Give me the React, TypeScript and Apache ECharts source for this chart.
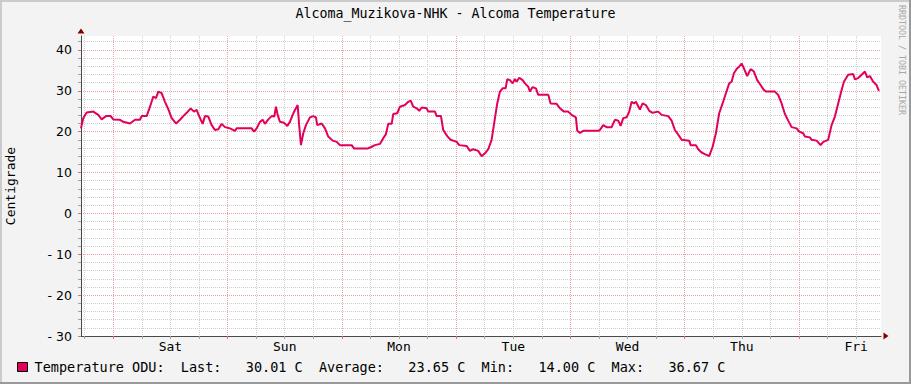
import React, { useEffect, useRef } from "react";
import * as echarts from "echarts";

const chartTitle = "Alcoma_Muzikova-NHK - Alcoma Temperature";
const yAxisTitle = "Centigrade";
const watermark = "RRDTOOL / TOBI OETIKER";
const seriesName = "Temperature ODU";
const unit = "C";
const dayLabels = ["Sat", "Sun", "Mon", "Tue", "Wed", "Thu", "Fri"];
const statNames = ["Last", "Average", "Min", "Max"];
const statValues = [30.01, 23.65, 14.0, 36.67];

// time in hours relative to Saturday 00:00
const startHour = -6.78;
const spanHours = 168;
const yMin = -30;
const yMax = 43.4;
const yMajorStep = 10;
const yMinorStep = 2;

// [hour, temperature °C]
const readings: [number, number][] = [
  [-6.78, 20.8], [-6.3, 23.3], [-5.59, 24.7], [-4.2, 24.9], [-3.15, 24.1], [-2.44, 23.0], [-1.53, 23.8], [-0.55, 23.8],
  [0, 23.0], [1.41, 22.9], [2.1, 22.4], [3.51, 22.0], [4.56, 22.9], [5.61, 22.9], [5.96, 23.8], [7.01, 23.8],
  [7.71, 26.1], [8.4, 28.6], [8.97, 28.2], [9.45, 29.8], [10.16, 29.4], [10.86, 27.3], [11.55, 25.5], [12.26, 23.3],
  [13.17, 22.0], [14.01, 22.9], [14.7, 23.8], [15.41, 24.6], [16.25, 25.7], [16.94, 24.9], [17.51, 25.3], [18.06, 23.7],
  [18.77, 21.9], [19.25, 23.8], [19.95, 23.7], [20.66, 21.6], [21.35, 20.4], [22.05, 20.6], [22.76, 21.9], [23.45, 21.1],
  [24.5, 20.8], [25.55, 20.2], [25.91, 20.8], [26.96, 20.8], [29.06, 20.8], [29.54, 20.0], [30.11, 20.8], [30.8, 22.4],
  [31.37, 22.9], [31.85, 21.9], [32.55, 23.0], [33.26, 23.8], [33.81, 23.7], [34.16, 26.1], [34.52, 24.1], [35.0, 22.4],
  [35.84, 22.2], [36.54, 21.4], [37.1, 22.4], [37.67, 24.1], [38.15, 25.3], [38.72, 26.5], [39.06, 21.2], [39.41, 16.7],
  [39.9, 19.6], [40.46, 21.6], [41.3, 23.5], [41.99, 23.8], [42.56, 23.5], [42.83, 21.6], [43.76, 22.0], [44.45, 20.8],
  [45.14, 18.8], [46.07, 17.8], [46.91, 17.5], [47.6, 16.7], [50.06, 16.7], [50.54, 15.9], [51.8, 15.9], [53.48, 15.9],
  [54.26, 16.3], [54.95, 16.7], [56.0, 17.0], [56.69, 18.4], [57.26, 19.4], [57.74, 21.9], [58.46, 21.9], [58.79, 24.3],
  [59.63, 24.5], [60.2, 26.1], [61.25, 26.5], [61.94, 27.3], [62.45, 27.6], [62.99, 26.1], [63.71, 25.7], [64.25, 25.1],
  [64.76, 25.9], [65.81, 25.7], [66.14, 24.9], [67.55, 24.9], [67.91, 23.8], [68.81, 23.8], [69.29, 20.4], [70.13, 18.9],
  [70.85, 18.0], [72.11, 17.5], [72.65, 16.7], [74.2, 16.5], [74.9, 15.3], [75.59, 15.7], [76.64, 15.3], [77.35, 14.0],
  [78.05, 14.7], [78.74, 15.7], [79.45, 18.0], [80.15, 23.3], [80.63, 26.9], [81.2, 29.8], [81.76, 30.6], [82.39, 30.6],
  [82.73, 32.8], [83.3, 32.6], [83.86, 31.8], [84.35, 32.9], [84.7, 32.2], [85.25, 33.2], [85.96, 32.6], [86.45, 31.8],
  [87.14, 31.0], [87.49, 29.8], [88.06, 30.9], [88.76, 30.6], [89.24, 29.0], [91.34, 29.0], [91.84, 26.9], [93.1, 26.8],
  [93.8, 25.7], [94.64, 24.9], [95.54, 24.9], [96.25, 24.1], [97.15, 23.5], [97.43, 20.2], [97.99, 19.7], [98.69, 20.2],
  [101.84, 20.2], [102.19, 20.4], [102.89, 21.6], [103.6, 21.1], [104.65, 21.1], [105.34, 22.9], [106.04, 22.7], [106.54, 21.4],
  [107.09, 23.3], [107.8, 23.5], [108.35, 24.9], [108.85, 27.3], [109.33, 26.9], [109.75, 27.3], [110.59, 25.4], [111.16, 26.9],
  [111.85, 26.5], [112.55, 25.1], [113.26, 24.6], [114.44, 24.9], [115.15, 24.1], [116.54, 23.8], [117.25, 22.7], [117.94, 20.4],
  [118.85, 18.9], [119.35, 18.0], [120.95, 17.8], [121.24, 16.7], [122.35, 16.7], [122.83, 15.7], [123.55, 14.9], [124.24, 14.5],
  [125.14, 14.0], [125.86, 16.3], [126.55, 19.6], [127.24, 24.5], [127.96, 26.9], [128.65, 29.4], [129.34, 31.8], [129.85, 32.2],
  [130.33, 34.3], [131.02, 35.5], [131.44, 35.9], [131.95, 36.67], [132.43, 35.5], [133.12, 33.6], [133.84, 35.3], [134.53, 34.7],
  [135.22, 32.6], [135.94, 31.4], [136.48, 30.4], [137.05, 29.8], [138.94, 29.8], [139.63, 29.0], [140.35, 26.9], [141.04, 24.3],
  [141.73, 22.7], [142.45, 21.1], [143.5, 20.8], [144.04, 20.0], [144.88, 19.6], [145.24, 18.8], [146.29, 18.6], [146.64, 18.0],
  [147.7, 17.8], [148.54, 16.7], [149.09, 17.5], [150.13, 18.0], [150.84, 21.6], [151.54, 23.7], [152.23, 26.9], [152.95, 30.2],
  [153.43, 32.2], [154.33, 33.9], [155.38, 34.1], [155.74, 32.8], [156.43, 33.1], [157.15, 33.9], [157.84, 34.7], [158.32, 33.3],
  [158.89, 33.6], [159.58, 32.2], [160.29, 31.4], [160.78, 30.0],
];

const LINE_COLOR = "#e2005a";
const MINOR_GRID = "#cfcfcf";
const MAJOR_GRID = "#f0a0a0";
const AXIS_COLOR = "#4a4a4a";
const ARROW_COLOR = "#800000";
const MONO = "DejaVu Sans Mono";

const endHour = startHour + spanHours;
const majorHours: number[] = dayLabels.map((_, i) => i * 24);
const minorHours: number[] = [];
for (let d = -24; d <= 144; d += 24) {
  [6, 12, 18].forEach((o) => {
    const h = d + o;
    if (h > startHour && h < endHour) minorHours.push(h);
  });
}
const labelHours: number[] = dayLabels.map((_, i) => i * 24 + 12);
const yMajor: number[] = [];
const yMinor: number[] = [];
for (let v = yMin; v <= yMax; v += yMinorStep) {
  if (v % yMajorStep === 0) yMajor.push(v);
  else yMinor.push(v);
}

const legendText =
  seriesName +
  ":" +
  statNames.map((n, i) => `  ${n}:${statValues[i].toFixed(2).padStart(8)} ${unit}`).join("");

export default function App() {
  const ref = useRef<HTMLDivElement>(null);
  useEffect(() => {
    if (!ref.current) return;
    const chart = echarts.init(ref.current, null, { renderer: "svg" });
    const W = 911;
    const H = 384;
    chart.setOption({
      animation: false,
      backgroundColor: "#f3f3f3",
      title: {
        text: chartTitle,
        left: "center",
        top: 7,
        padding: 0,
        textStyle: { fontFamily: MONO, fontSize: 13.3, fontWeight: "normal", color: "#000" },
      },
      legend: {
        data: [seriesName],
        left: 17,
        top: 360,
        padding: 0,
        icon: "rect",
        itemWidth: 10,
        itemHeight: 9,
        selectedMode: false,
        formatter: () => legendText,
        itemStyle: { borderColor: "#000", borderWidth: 1 },
        textStyle: { fontFamily: MONO, fontSize: 13.5, color: "#000", padding: [0, 0, 0, 2] },
      },
      grid: {
        left: 81,
        top: 36,
        width: 800,
        height: 300,
        containLabel: false,
        outerBoundsMode: "none",
        show: true,
        backgroundColor: "#ffffff",
        borderWidth: 0,
      },
      xAxis: [
        {
          type: "value",
          min: startHour,
          max: endHour,
          position: "bottom",
          axisLine: { show: true, onZero: false, lineStyle: { color: AXIS_COLOR, width: 1 } },
          axisTick: { show: true, customValues: minorHours, length: 3, lineStyle: { color: "#a0a0a0" } },
          splitLine: { show: true, lineStyle: { color: MINOR_GRID, type: "dotted", width: 1 } },
          axisLabel: {
            show: true,
            customValues: labelHours,
            formatter: (v: number) => dayLabels[Math.round((v - 12) / 24)] ?? "",
            margin: 4,
            fontFamily: MONO,
            fontSize: 13,
            color: "#000",
          },
        },
        {
          type: "value",
          min: startHour,
          max: endHour,
          position: "bottom",
          axisLine: {
            show: true,
            onZero: false,
            symbol: ["none", "triangle"],
            symbolSize: [7, 5],
            symbolOffset: [0, 5],
            lineStyle: { color: ARROW_COLOR, width: 0 },
          },
          axisTick: { show: true, customValues: majorHours, length: 3, lineStyle: { color: "#e07070" } },
          splitLine: { show: true, lineStyle: { color: MAJOR_GRID, type: "dotted", width: 1 } },
          axisLabel: { show: false },
        },
      ],
      yAxis: [
        {
          type: "value",
          min: yMin,
          max: yMax,
          position: "left",
          name: yAxisTitle,
          nameLocation: "middle",
          nameRotate: 90,
          nameGap: 64,
          nameTextStyle: { fontFamily: MONO, fontSize: 13, color: "#000" },
          axisLine: { show: true, onZero: false, lineStyle: { color: AXIS_COLOR, width: 1 } },
          axisTick: { show: true, customValues: yMinor, length: 3, lineStyle: { color: "#a0a0a0" } },
          splitLine: { show: true, lineStyle: { color: MINOR_GRID, type: "dotted", width: 1 } },
          axisLabel: { show: false },
        },
        {
          type: "value",
          min: yMin,
          max: yMax,
          position: "left",
          axisLine: {
            show: true,
            onZero: false,
            symbol: ["none", "triangle"],
            symbolSize: [7, 5],
            symbolOffset: [0, 5],
            lineStyle: { color: ARROW_COLOR, width: 0 },
          },
          axisTick: { show: true, customValues: yMajor, length: 3, lineStyle: { color: "#e07070" } },
          splitLine: { show: true, lineStyle: { color: MAJOR_GRID, type: "dotted", width: 1 } },
          axisLabel: {
            show: true,
            customValues: yMajor,
            margin: 9,
            fontFamily: "DejaVu Sans",
            fontSize: 12.5,
            color: "#000",
            formatter: (v: number) => (v < 0 ? "- " + Math.abs(v) : String(v)),
          },
        },
      ],
      graphic: [
        { type: "rect", shape: { x: 0, y: 0, width: W, height: 2 }, style: { fill: "#cbcbcb" }, silent: true },
        { type: "rect", shape: { x: 0, y: 0, width: 2, height: H }, style: { fill: "#cbcbcb" }, silent: true },
        { type: "rect", shape: { x: 0, y: H - 2, width: W, height: 2 }, style: { fill: "#999999" }, silent: true },
        { type: "rect", shape: { x: W - 2, y: 0, width: 2, height: H }, style: { fill: "#999999" }, silent: true },
        {
          type: "text",
          x: 906,
          y: 5,
          rotation: -Math.PI / 2,
          silent: true,
          style: {
            text: watermark,
            fontFamily: MONO,
            fontSize: 8.3,
            fill: "#a8a8a8",
            textAlign: "left",
            textVerticalAlign: "top",
          },
        },
      ],
      series: [
        {
          name: seriesName,
          type: "line",
          xAxisIndex: 0,
          yAxisIndex: 0,
          data: readings,
          showSymbol: false,
          symbol: "none",
          color: LINE_COLOR,
          lineStyle: { color: LINE_COLOR, width: 2 },
          z: 5,
        },
      ],
    });
    return () => chart.dispose();
  }, []);
  return <div ref={ref} style={{ position: "absolute", left: 0, top: 0, width: 911, height: 384 }} />;
}
